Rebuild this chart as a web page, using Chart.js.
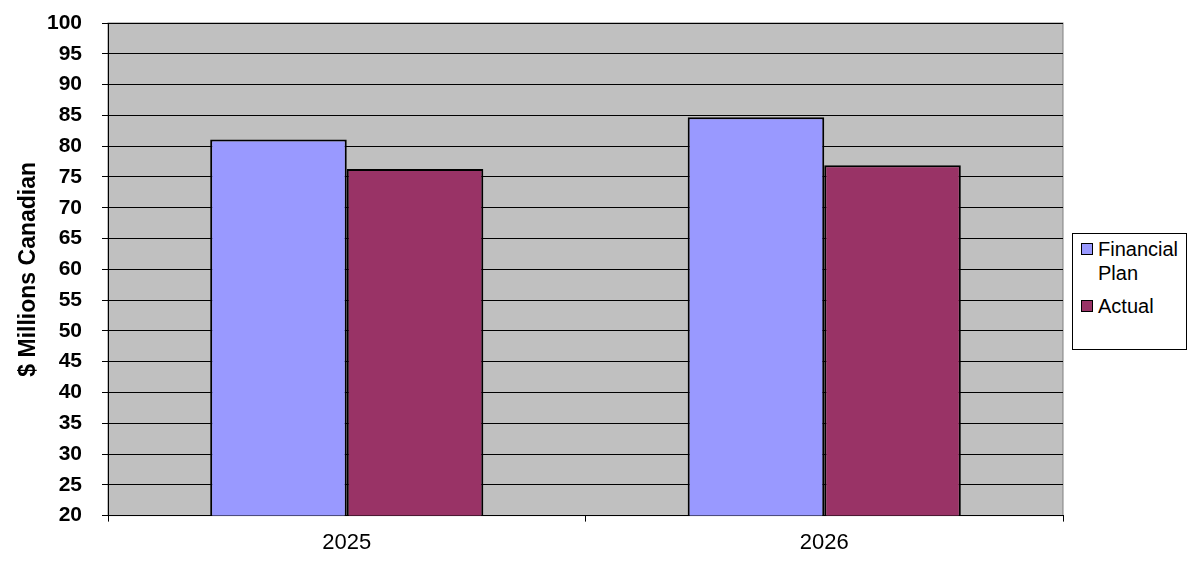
<!DOCTYPE html>
<html lang="en">
<head>
    <meta charset="UTF-8">
    <title>Financial Plan vs Actual</title>
    <script src="https://cdn.jsdelivr.net/npm/chart.js"></script>
    <style>
        body { margin: 0; background: #fff; }
        #wrap { position: relative; width: 1193px; height: 576px; }
        #legend {
            position: absolute;
            left: 1072px; top: 233px;
            width: 113px; height: 112px;
            border: 1px solid #000;
            background: #fff;
            font-family: "Liberation Sans", Arial, sans-serif;
            font-size: 20px;
            line-height: 24px;
            color: #000;
            padding-top: 3px;
            box-sizing: content-box;
        }
        .item { display: flex; align-items: flex-start; margin-left: 8px; margin-bottom: 9px; }
        .swatch { width: 10px; height: 10px; border: 1px solid #000; margin-top: 6px; margin-right: 5px; flex: none; }
        .label { width: 86px; }
    </style>
</head>
<body>
    <div id="wrap">
        <canvas id="chart" width="1193" height="576"></canvas>
        <div id="legend"></div>
    </div>

    <script>
        const categories = ['2025', '2026'];
        const seriesNames = ['Financial Plan', 'Actual'];
        const financialPlan = [81.1, 84.7];
        const actual = [76.3, 76.9];
        const seriesColors = ['#9999FF', '#993366'];

        const FONT = '"Liberation Sans", Arial, sans-serif';

        // fundo cinza da área do gráfico
        const plotBackground = {
            id: 'plotBackground',
            beforeDraw(chart) {
                const { ctx, chartArea: a } = chart;
                ctx.save();
                ctx.fillStyle = '#C0C0C0';
                ctx.fillRect(a.left, a.top, a.right - a.left, a.bottom - a.top);
                ctx.strokeStyle = '#808080';
                ctx.lineWidth = 1;
                ctx.strokeRect(a.left, a.top, a.right - a.left, a.bottom - a.top);
                ctx.restore();
            }
        };

        const chart = new Chart(document.getElementById('chart'), {
            type: 'bar',
            data: {
                labels: categories,
                datasets: [
                    {
                        label: seriesNames[0],
                        data: financialPlan,
                        backgroundColor: seriesColors[0],
                        borderColor: '#000',
                        borderWidth: 2
                    },
                    {
                        label: seriesNames[1],
                        data: actual,
                        backgroundColor: seriesColors[1],
                        borderColor: '#000',
                        borderWidth: 2
                    }
                ]
            },
            options: {
                responsive: false,
                animation: false,
                layout: { padding: { top: 23, right: 130, bottom: 12, left: 0 } },
                datasets: { bar: { barPercentage: 1, categoryPercentage: 0.572 } },
                scales: {
                    x: {
                        grid: { offset: true, drawOnChartArea: false, color: '#000', tickLength: 6 },
                        border: { color: '#000', width: 1 },
                        ticks: { color: '#000', padding: 8, font: { family: FONT, size: 22 } }
                    },
                    y: {
                        min: 20,
                        max: 100,
                        afterFit(scale) {
                            scale.width = 108;
                            // o padding dos rótulos não deve empurrar a área do gráfico
                            scale.paddingTop = 10;
                            scale.paddingBottom = 10;
                        },
                        grid: { color: '#000', tickLength: 6 },
                        border: { color: '#000', width: 1 },
                        ticks: { stepSize: 5, color: '#000', padding: 20, font: { family: FONT, size: 21, weight: 'bold' } },
                        title: {
                            display: true,
                            text: '$ Millions Canadian',
                            color: '#000',
                            padding: { top: 15, bottom: 0 },
                            font: { family: FONT, size: 23, weight: 'bold' }
                        }
                    }
                },
                plugins: {
                    legend: { display: false },
                    tooltip: { enabled: false }
                }
            },
            plugins: [plotBackground]
        });

        // legenda em HTML, a partir dos datasets
        const legend = document.getElementById('legend');
        chart.data.datasets.forEach(ds => {
            const item = document.createElement('div');
            item.className = 'item';
            const sw = document.createElement('span');
            sw.className = 'swatch';
            sw.style.background = ds.backgroundColor;
            const txt = document.createElement('span');
            txt.className = 'label';
            txt.textContent = ds.label;
            item.appendChild(sw);
            item.appendChild(txt);
            legend.appendChild(item);
        });
    </script>
</body>
</html>
